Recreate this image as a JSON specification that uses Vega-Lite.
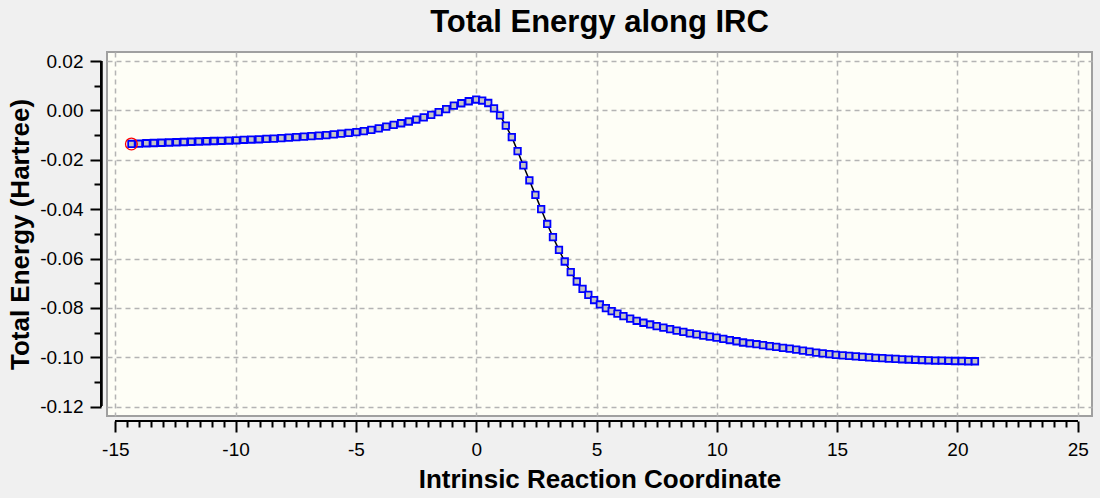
{
  "$schema": "https://vega.github.io/schema/vega-lite/v6.json",
  "autosize": "none",
  "width": 985,
  "height": 364,
  "padding": {"left": 107, "top": 52, "right": 8, "bottom": 82},
  "background": "#f0f0f0",
  "config": {
    "font": "Liberation Sans",
    "view": {"fill": "#fefef6", "stroke": "#a0a0a0", "strokeWidth": 2}
  },
  "title": {
    "text": "Total Energy along IRC",
    "fontSize": 31,
    "fontWeight": "bold",
    "color": "#000000",
    "anchor": "middle",
    "frame": "group",
    "offset": 13
  },
  "data": {
    "values": [
      {"irc": -14.33, "energy": -0.0136},
      {"irc": -14.02, "energy": -0.0135},
      {"irc": -13.71, "energy": -0.0133},
      {"irc": -13.40, "energy": -0.0132},
      {"irc": -13.08, "energy": -0.0131},
      {"irc": -12.77, "energy": -0.0130},
      {"irc": -12.46, "energy": -0.0129},
      {"irc": -12.15, "energy": -0.0128},
      {"irc": -11.84, "energy": -0.0127},
      {"irc": -11.53, "energy": -0.0126},
      {"irc": -11.21, "energy": -0.0125},
      {"irc": -10.90, "energy": -0.0124},
      {"irc": -10.59, "energy": -0.0123},
      {"irc": -10.28, "energy": -0.0122},
      {"irc": -9.97, "energy": -0.0121},
      {"irc": -9.66, "energy": -0.0119},
      {"irc": -9.35, "energy": -0.0118},
      {"irc": -9.03, "energy": -0.0117},
      {"irc": -8.72, "energy": -0.0115},
      {"irc": -8.41, "energy": -0.0114},
      {"irc": -8.10, "energy": -0.0112},
      {"irc": -7.79, "energy": -0.0110},
      {"irc": -7.48, "energy": -0.0108},
      {"irc": -7.16, "energy": -0.0106},
      {"irc": -6.85, "energy": -0.0104},
      {"irc": -6.54, "energy": -0.0102},
      {"irc": -6.23, "energy": -0.0100},
      {"irc": -5.92, "energy": -0.0097},
      {"irc": -5.61, "energy": -0.0094},
      {"irc": -5.30, "energy": -0.0091},
      {"irc": -4.98, "energy": -0.0088},
      {"irc": -4.67, "energy": -0.0084},
      {"irc": -4.36, "energy": -0.0079},
      {"irc": -4.05, "energy": -0.0073},
      {"irc": -3.74, "energy": -0.0066},
      {"irc": -3.43, "energy": -0.0059},
      {"irc": -3.12, "energy": -0.0052},
      {"irc": -2.80, "energy": -0.0045},
      {"irc": -2.49, "energy": -0.0037},
      {"irc": -2.18, "energy": -0.0028},
      {"irc": -1.87, "energy": -0.0018},
      {"irc": -1.56, "energy": -0.0007},
      {"irc": -1.25, "energy": 0.0005},
      {"irc": -0.93, "energy": 0.0019},
      {"irc": -0.62, "energy": 0.0029},
      {"irc": -0.31, "energy": 0.0037},
      {"irc": 0.00, "energy": 0.0044},
      {"irc": 0.25, "energy": 0.0040},
      {"irc": 0.50, "energy": 0.0030},
      {"irc": 0.74, "energy": 0.0008},
      {"irc": 0.99, "energy": -0.0020},
      {"irc": 1.23, "energy": -0.0062},
      {"irc": 1.48, "energy": -0.0108},
      {"irc": 1.72, "energy": -0.0165},
      {"irc": 1.96, "energy": -0.0223},
      {"irc": 2.21, "energy": -0.0283},
      {"irc": 2.46, "energy": -0.0342},
      {"irc": 2.70, "energy": -0.0400},
      {"irc": 2.95, "energy": -0.0460},
      {"irc": 3.19, "energy": -0.0513},
      {"irc": 3.44, "energy": -0.0565},
      {"irc": 3.68, "energy": -0.0612},
      {"irc": 3.93, "energy": -0.0655},
      {"irc": 4.18, "energy": -0.0693},
      {"irc": 4.42, "energy": -0.0723},
      {"irc": 4.66, "energy": -0.0747},
      {"irc": 4.90, "energy": -0.0768},
      {"irc": 5.14, "energy": -0.0786},
      {"irc": 5.39, "energy": -0.0801},
      {"irc": 5.63, "energy": -0.0813},
      {"irc": 5.87, "energy": -0.0823},
      {"irc": 6.12, "energy": -0.0833},
      {"irc": 6.40, "energy": -0.0843},
      {"irc": 6.67, "energy": -0.0852},
      {"irc": 6.95, "energy": -0.0860},
      {"irc": 7.23, "energy": -0.0867},
      {"irc": 7.50, "energy": -0.0874},
      {"irc": 7.78, "energy": -0.0880},
      {"irc": 8.06, "energy": -0.0886},
      {"irc": 8.33, "energy": -0.0892},
      {"irc": 8.61, "energy": -0.0897},
      {"irc": 8.88, "energy": -0.0903},
      {"irc": 9.16, "energy": -0.0907},
      {"irc": 9.44, "energy": -0.0912},
      {"irc": 9.71, "energy": -0.0916},
      {"irc": 9.99, "energy": -0.0920},
      {"irc": 10.27, "energy": -0.0925},
      {"irc": 10.54, "energy": -0.0930},
      {"irc": 10.82, "energy": -0.0935},
      {"irc": 11.09, "energy": -0.0940},
      {"irc": 11.37, "energy": -0.0944},
      {"irc": 11.65, "energy": -0.0947},
      {"irc": 11.92, "energy": -0.0951},
      {"irc": 12.20, "energy": -0.0955},
      {"irc": 12.47, "energy": -0.0958},
      {"irc": 12.75, "energy": -0.0962},
      {"irc": 13.03, "energy": -0.0965},
      {"irc": 13.30, "energy": -0.0969},
      {"irc": 13.58, "energy": -0.0973},
      {"irc": 13.85, "energy": -0.0977},
      {"irc": 14.13, "energy": -0.0981},
      {"irc": 14.40, "energy": -0.0984},
      {"irc": 14.68, "energy": -0.0987},
      {"irc": 14.95, "energy": -0.0990},
      {"irc": 15.23, "energy": -0.0992},
      {"irc": 15.50, "energy": -0.0994},
      {"irc": 15.78, "energy": -0.0996},
      {"irc": 16.05, "energy": -0.0998},
      {"irc": 16.33, "energy": -0.1000},
      {"irc": 16.60, "energy": -0.1002},
      {"irc": 16.88, "energy": -0.1003},
      {"irc": 17.15, "energy": -0.1005},
      {"irc": 17.43, "energy": -0.1006},
      {"irc": 17.70, "energy": -0.1008},
      {"irc": 17.98, "energy": -0.1009},
      {"irc": 18.25, "energy": -0.1010},
      {"irc": 18.53, "energy": -0.1011},
      {"irc": 18.80, "energy": -0.1012},
      {"irc": 19.08, "energy": -0.1013},
      {"irc": 19.35, "energy": -0.1013},
      {"irc": 19.63, "energy": -0.1014},
      {"irc": 19.90, "energy": -0.1015},
      {"irc": 20.18, "energy": -0.1015},
      {"irc": 20.45, "energy": -0.1016},
      {"irc": 20.73, "energy": -0.1016}
    ]
  },
  "layer": [
    {
      "mark": {"type": "line", "color": "#000000", "strokeWidth": 1.5},
      "encoding": {
        "x": {
          "field": "irc",
          "type": "quantitative",
          "scale": {"domain": [-15.345, 25.594], "nice": false, "zero": false},
          "axis": {
            "title": "Intrinsic Reaction Coordinate",
            "titleFontSize": 26,
            "titleFontWeight": "bold",
            "titleColor": "#000000",
            "titleBaseline": "alphabetic",
            "titleY": 66,
            "domain": false,
            "offset": 5,
            "tickCount": 500,
            "values": [-15, -14.5, -14, -13.5, -13, -12.5, -12, -11.5, -11, -10.5, -10, -9.5, -9, -8.5, -8, -7.5, -7, -6.5, -6, -5.5, -5, -4.5, -4, -3.5, -3, -2.5, -2, -1.5, -1, -0.5, 0, 0.5, 1, 1.5, 2, 2.5, 3, 3.5, 4, 4.5, 5, 5.5, 6, 6.5, 7, 7.5, 8, 8.5, 9, 9.5, 10, 10.5, 11, 11.5, 12, 12.5, 13, 13.5, 14, 14.5, 15, 15.5, 16, 16.5, 17, 17.5, 18, 18.5, 19, 19.5, 20, 20.5, 21, 21.5, 22, 22.5, 23, 23.5, 24, 24.5, 25],
            "labelExpr": "datum.value % 5 == 0 ? replace(format(datum.value, 'd'), '\u2212', '-') : ''",
            "labelFontSize": 19,
            "labelColor": "#000000",
            "labelBaseline": "alphabetic",
            "labelPadding": 23,
            "labelFlush": false,
            "labelOverlap": false,
            "tickColor": "#000000",
            "tickWidth": 2,
            "tickSize": {"condition": {"test": "datum.value % 5 == 0", "value": 11}, "value": 6},
            "grid": true,
            "gridColor": "#b4b4b4",
            "gridDash": [5, 4],
            "gridWidth": 1.5,
            "gridOpacity": {"condition": {"test": "datum.value % 5 == 0", "value": 1}, "value": 0}
          }
        },
        "y": {
          "field": "energy",
          "type": "quantitative",
          "scale": {"domain": [-0.12377, 0.02365], "nice": false, "zero": false},
          "axis": {
            "title": "Total Energy (Hartree)",
            "titleFontSize": 26,
            "titleFontWeight": "bold",
            "titleColor": "#000000",
            "titleAngle": -90,
            "titleBaseline": "alphabetic",
            "titleAlign": "center",
            "titleX": -73,
            "titleY": 182,
            "domain": false,
            "offset": 6,
            "tickCount": 500,
            "values": [-0.12, -0.11, -0.1, -0.09, -0.08, -0.07, -0.06, -0.05, -0.04, -0.03, -0.02, -0.01, 0, 0.01, 0.02],
            "labelExpr": "round(datum.value * 100) % 2 == 0 ? replace(format(datum.value, '.2f'), '\u2212', '-') : ''",
            "labelFontSize": 19,
            "labelColor": "#000000",
            "labelPadding": 7,
            "labelFlush": false,
            "labelOverlap": false,
            "tickColor": "#000000",
            "tickWidth": 2,
            "tickSize": {"condition": {"test": "round(datum.value * 100) % 2 == 0", "value": 11}, "value": 7},
            "grid": true,
            "gridColor": "#b4b4b4",
            "gridDash": [5, 4],
            "gridWidth": 1.5,
            "gridOpacity": {"condition": {"test": "round(datum.value * 100) % 2 == 0", "value": 1}, "value": 0}
          }
        }
      }
    },
    {
      "mark": {"type": "point", "shape": "square", "size": 42, "filled": false, "fill": "#c4c4c4", "fillOpacity": 1, "stroke": "#0000ff", "strokeWidth": 1.8, "opacity": 1},
      "encoding": {
        "x": {"field": "irc", "type": "quantitative"},
        "y": {"field": "energy", "type": "quantitative"}
      }
    },
    {
      "transform": [{"filter": "datum.irc == -14.33"}],
      "mark": {"type": "point", "shape": "circle", "size": 140, "filled": false, "stroke": "#ff0000", "strokeWidth": 1.3, "opacity": 1},
      "encoding": {
        "x": {"field": "irc", "type": "quantitative"},
        "y": {"field": "energy", "type": "quantitative"}
      }
    },
    {
      "mark": {"type": "rule", "color": "#000000", "strokeWidth": 2},
      "encoding": {
        "x": {"datum": -15},
        "x2": {"datum": 25},
        "y": {"datum": -0.1258}
      }
    },
    {
      "mark": {"type": "rule", "color": "#000000", "strokeWidth": 2},
      "encoding": {
        "x": {"datum": -15.594},
        "y": {"datum": -0.12},
        "y2": {"datum": 0.02}
      }
    }
  ]
}
